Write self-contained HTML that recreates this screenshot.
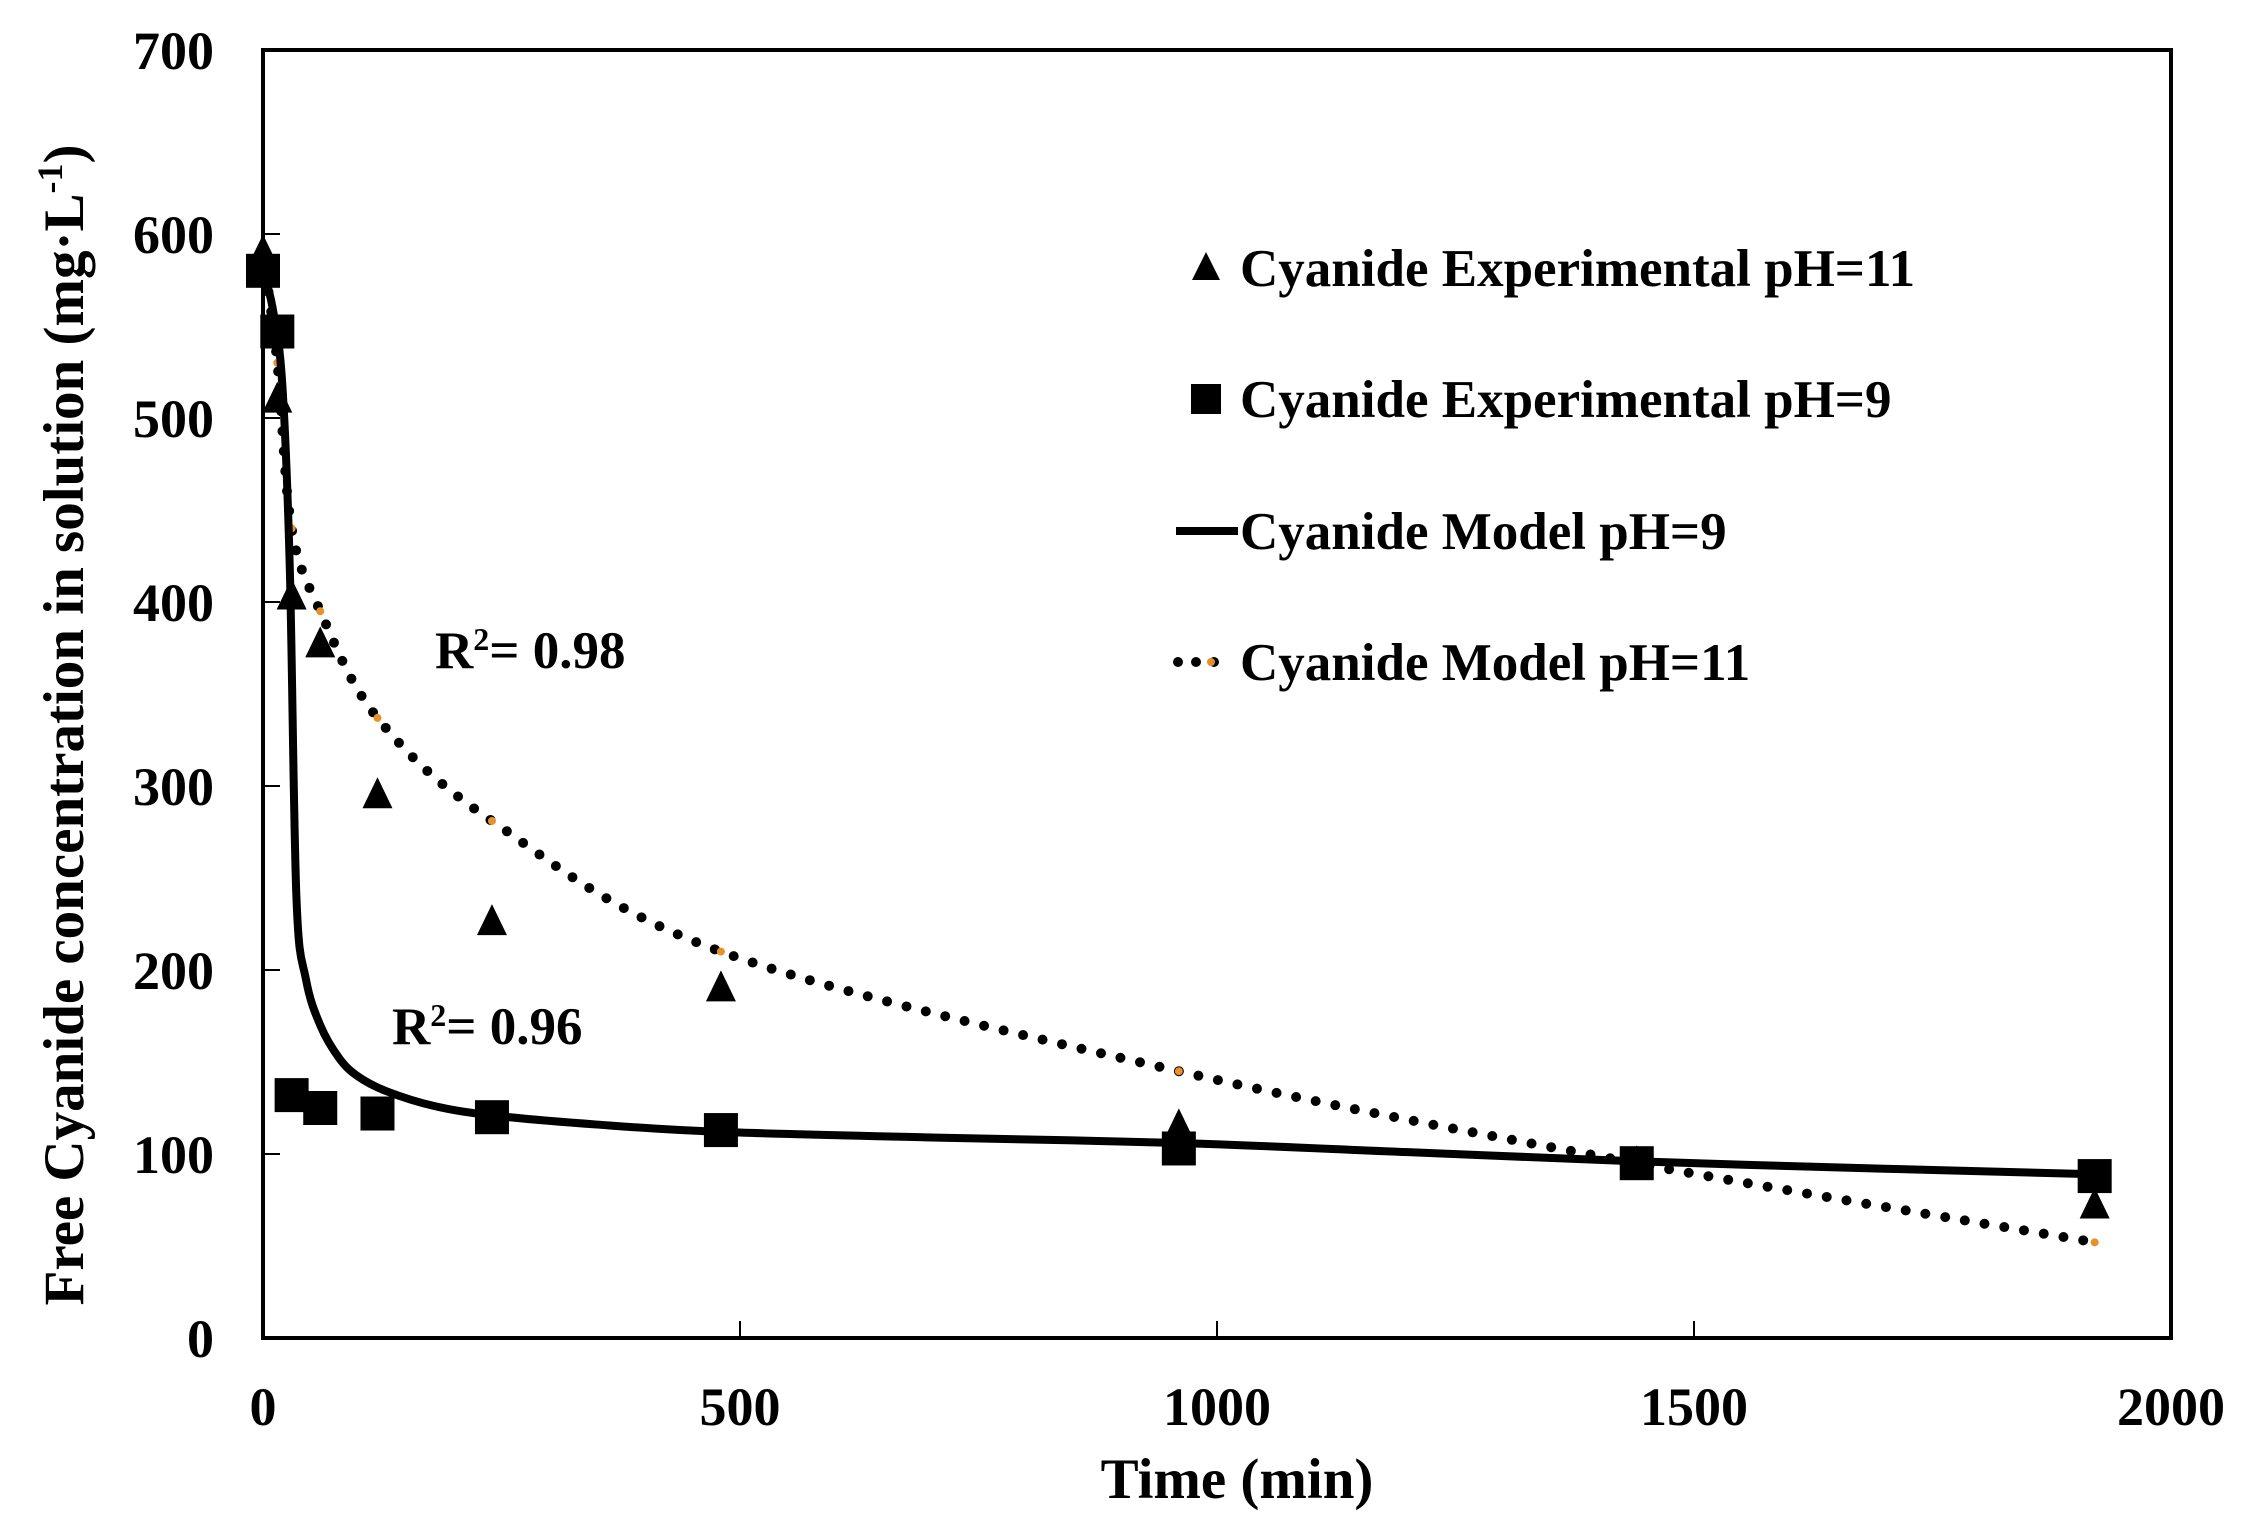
<!DOCTYPE html>
<html><head><meta charset="utf-8"><style>
html,body{margin:0;padding:0;background:#fff;}
svg{display:block;font-family:"Liberation Serif",serif;font-weight:bold;}
</style></head><body>
<svg id="chart" width="2251" height="1535" viewBox="0 0 2251 1535" xmlns="http://www.w3.org/2000/svg">
<g id="plot"></g>
</svg>
<script>
const xTicks=[0,500,1000,1500,2000];
const yTicks=[0,100,200,300,400,500,600,700];
const timeExp=[0,15,30,60,120,240,480,960,1440,1920];
const ph9Exp=[580,547,132,125,122,120,113,103,95,88];
const ph11Exp=[590,510,403,377,295,226,190,115,95,72];
const timeModel9=[0,10,20,28,35,45,60,80,100,130,180,240,350,480,700,960,1200,1440,1700,1920];
const ph9Model=[580,560,520,420,240,195,170,152,142,134,126,121,116,112,109,106,101,96,92,89];
const timeModel11=[0,15,30,60,120,240,480,960,1440,1920];
const ph11Model=[590,530,440,395,337,281,210,145,95,52];
const X0=263,X1=2171,Y0=1338,Y1=50;
const sx=v=>X0+(v-0)/(2000)*(X1-X0);
const sy=v=>Y0-(v/700)*(Y0-Y1);
const NS="http://www.w3.org/2000/svg";
const g=document.getElementById('plot');
function mk(tag,attrs,parent){const e=document.createElementNS(NS,tag);for(const k in attrs)e.setAttribute(k,attrs[k]);(parent||g).appendChild(e);return e;}
function smooth(xs,ys){let p=xs.map((x,i)=>[sx(x),sy(ys[i])]);let d='M'+p[0][0]+','+p[0][1];
for(let i=0;i<p.length-1;i++){const p0=p[Math.max(0,i-1)],p1=p[i],p2=p[i+1],p3=p[Math.min(p.length-1,i+2)];
const c1=[p1[0]+(p2[0]-p0[0])/6,p1[1]+(p2[1]-p0[1])/6],c2=[p2[0]-(p3[0]-p1[0])/6,p2[1]-(p3[1]-p1[1])/6];
d+=' C'+c1[0]+','+c1[1]+' '+c2[0]+','+c2[1]+' '+p2[0]+','+p2[1];}return d;}
let fr=mk('rect',{x:X0,y:Y1,width:X1-X0,height:Y0-Y1,fill:'none',stroke:'#000','stroke-width':4});


xTicks.forEach(t=>{
 let l=mk('line',{x1:sx(t),x2:sx(t),y1:Y0,y2:Y0-17,stroke:'#000','stroke-width':2});
 
 
 let tx=mk('text',{x:sx(t),y:1425,'font-size':54,'text-anchor':'middle'});tx.textContent=t;
 
 
});
yTicks.forEach(t=>{
 let l=mk('line',{x1:X0,x2:X0+17,y1:sy(t),y2:sy(t),stroke:'#000','stroke-width':2});
 
 
 let tx=mk('text',{x:214,y:sy(t)+19,'font-size':54,'text-anchor':'end'});tx.textContent=t;
 
 
});
let m11=mk('path',{d:smooth(timeModel11,ph11Model),fill:'none',stroke:'#000','stroke-width':10,'stroke-linecap':'round','stroke-dasharray':'0 20'});


timeModel11.forEach((t,i)=>{let c=mk('circle',{cx:sx(t),cy:sy(ph11Model[i]),r:4,fill:'#e8902a'});
 
 });
let m9=mk('path',{d:smooth(timeModel9,ph9Model),fill:'none',stroke:'#000','stroke-width':8});


timeExp.forEach((t,i)=>{const x=sx(t),y=sy(ph11Exp[i]);
 let p=mk('polygon',{points:`${x},${y-18} ${x-15},${y+13} ${x+15},${y+13}`,fill:'#000'});
 
 });
timeExp.forEach((t,i)=>{const x=sx(t),y=sy(ph9Exp[i]);
 let r=mk('rect',{x:x-17,y:y-17,width:34,height:34,fill:'#000'});
 
 });
const lg=mk('g',{});


const ly=[268,399,531,662];
const labs=['Cyanide Experimental pH=11','Cyanide Experimental pH=9','Cyanide Model pH=9','Cyanide Model pH=11'];
labs.forEach((s,i)=>{let t=mk('text',{x:1240,y:ly[i]+18,'font-size':53},lg);t.textContent=s;
 
 });
mk('polygon',{points:`1206,${ly[0]-16} 1192,${ly[0]+12} 1220,${ly[0]+12}`,fill:'#000'},lg);
mk('rect',{x:1191,y:ly[1]-15,width:30,height:30,fill:'#000'},lg);
mk('line',{x1:1176,x2:1238,y1:ly[2],y2:ly[2],stroke:'#000','stroke-width':8},lg);
mk('line',{x1:1178,x2:1215,y1:ly[3],y2:ly[3],stroke:'#000','stroke-width':10,'stroke-linecap':'round','stroke-dasharray':'0 18'},lg);
mk('circle',{cx:1211,cy:ly[3],r:4,fill:'#e8902a'},lg);
let r1=mk('text',{x:435,y:668,'font-size':53});r1.innerHTML='R<tspan font-size="32" dy="-18">2</tspan><tspan dy="18">= 0.98</tspan>';


let r2=mk('text',{x:392,y:1044,'font-size':53});r2.innerHTML='R<tspan font-size="32" dy="-18">2</tspan><tspan dy="18">= 0.96</tspan>';


let xt=mk('text',{x:1237,y:1498,'font-size':57,'text-anchor':'middle'});xt.textContent='Time (min)';


let yt=mk('text',{x:0,y:0,'font-size':57,'text-anchor':'middle',transform:'translate(83,725) rotate(-90)'});
yt.innerHTML='Free Cyanide concentration in solution (mg·L<tspan font-size="36" dy="-21">-1</tspan><tspan dy="21">)</tspan>';


</script>
</body></html>
